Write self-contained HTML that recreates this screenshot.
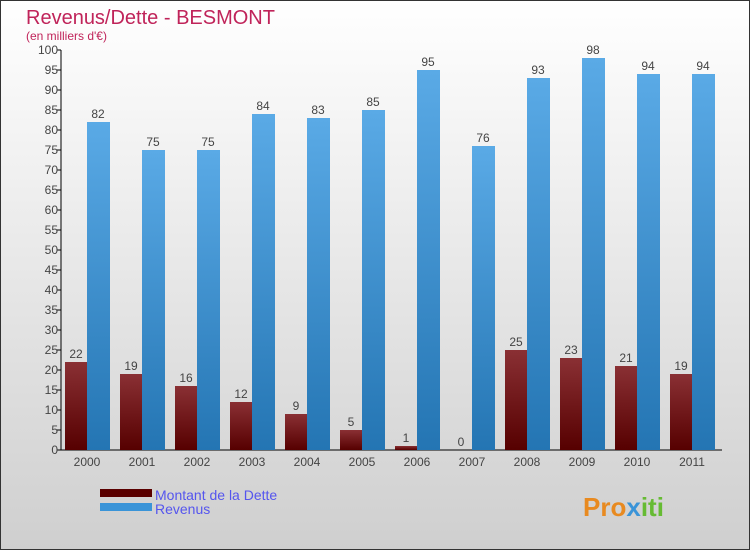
<!DOCTYPE html>
<html><head><meta charset="utf-8"><style>
body{margin:0}
#c{width:750px;height:550px;position:relative;font-family:"Liberation Sans",sans-serif}
</style></head><body>
<div id="c">
<svg width="750" height="550" xmlns="http://www.w3.org/2000/svg">
<defs>
<linearGradient id="bg" x1="0" y1="0" x2="0" y2="1"><stop offset="0" stop-color="#ffffff"/><stop offset="1" stop-color="#cfcfcf"/></linearGradient>
<linearGradient id="gd" x1="0" y1="0" x2="0" y2="1"><stop offset="0" stop-color="#8a3034"/><stop offset="1" stop-color="#560000"/></linearGradient>
<linearGradient id="gr" x1="0" y1="0" x2="0" y2="1"><stop offset="0" stop-color="#5aaae6"/><stop offset="1" stop-color="#2475b3"/></linearGradient>
</defs>
<rect x="0.5" y="0.5" width="749" height="549" fill="url(#bg)" stroke="#333"/>
<text x="26" y="24" font-size="20" fill="#c0245a">Revenus/Dette - BESMONT</text>
<text x="26" y="40" font-size="12" fill="#c0245a">(en milliers d'€)</text>
<g id="axes"></g>
<g id="bars"></g>
<rect x="100" y="489" width="52" height="8" fill="#5a0000"/>
<rect x="100" y="503" width="52" height="8" fill="#3a94d8"/>
<text x="155" y="500" font-size="14" fill="#5555ee">Montant de la Dette</text>
<text x="155" y="514" font-size="14" fill="#5555ee">Revenus</text>
<text x="583" y="516" font-size="26" font-weight="bold" fill="#e88a20">Pro<tspan fill="#3a94d8">x</tspan><tspan fill="#66bb33">iti</tspan></text>
</svg>
</div>
<script>
const years=["2000","2001","2002","2003","2004","2005","2006","2007","2008","2009","2010","2011"];
const dette=[22,19,16,12,9,5,1,0,25,23,21,19];
const revenus=[82,75,75,84,83,85,95,76,93,98,94,94];
const yTicks=[0,5,10,15,20,25,30,35,40,45,50,55,60,65,70,75,80,85,90,95,100];
const NS="http://www.w3.org/2000/svg";
const y0=450,yTop=50,x0=61,gw=55;
function y(v){return y0-(v/100)*(y0-yTop);}
function gx(i){return 65+gw*i;}
function mk(t,a,p){const e=document.createElementNS(NS,t);for(const k in a)e.setAttribute(k,a[k]);p.appendChild(e);return e;}
const ax=document.getElementById('axes'),bars=document.getElementById('bars');
let l=mk('line',{x1:x0,y1:yTop,x2:x0,y2:y0,stroke:'#000'},ax);


l=mk('line',{x1:x0,y1:y0,x2:722,y2:y0,stroke:'#000'},ax);


yTicks.forEach(v=>{
 const t=mk('line',{x1:x0-4,y1:y(v),x2:x0,y2:y(v),stroke:'#000'},ax);
 
 
 const tx=mk('text',{x:x0-3,y:y(v)+4,'font-size':12,fill:'#444','text-anchor':'end'},ax);
 tx.textContent=v;
 
 
});
years.forEach((yr,i)=>{
 const tx=mk('text',{x:gx(i)+22,y:466,'font-size':12,fill:'#444','text-anchor':'middle'},ax);
 tx.textContent=yr;
 
 
 const d=mk('rect',{x:gx(i),y:y(dette[i]),width:22,height:y0-y(dette[i]),fill:'url(#gd)'},bars);
 
 
 const r=mk('rect',{x:gx(i)+22,y:y(revenus[i]),width:23,height:y0-y(revenus[i]),fill:'url(#gr)'},bars);
 
 
 const dl=mk('text',{x:gx(i)+11,y:y(dette[i])-4,'font-size':12,fill:'#444','text-anchor':'middle'},bars);
 dl.textContent=dette[i];
 
 
 const rl=mk('text',{x:gx(i)+33,y:y(revenus[i])-4,'font-size':12,fill:'#444','text-anchor':'middle'},bars);
 rl.textContent=revenus[i];
 
 
});
</script>
</body></html>
